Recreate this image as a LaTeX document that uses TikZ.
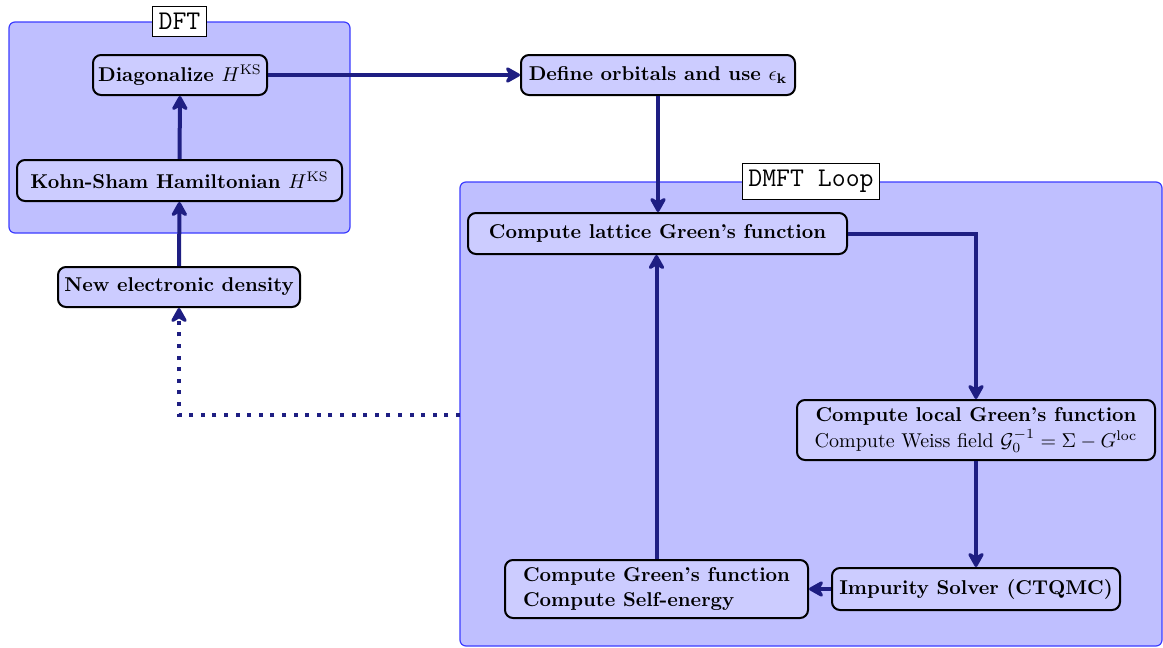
\documentclass[tikz,border=0pt]{standalone}
\usetikzlibrary{arrows.meta}
\definecolor{arrcol}{RGB}{30,30,130}
\definecolor{boxfill}{RGB}{204,204,255}
\definecolor{contfill}{RGB}{191,191,255}
\definecolor{contline}{RGB}{60,60,255}
\tikzset{
  stepbox/.style={draw=black, line width=1pt, fill=boxfill, rounded corners=4pt,
    inner sep=2pt, font=\bfseries, align=center},
  container/.style={draw=contline, line width=0.6pt, fill=contfill, rounded corners=3pt, inner sep=0pt},
  lbl/.style={draw=black, line width=0.5pt, fill=white, font=\fontsize{13.5}{16}\selectfont\ttfamily,
    inner sep=3.2pt, minimum height=14.5pt},
  arr/.style={draw=arrcol, line width=2pt, -{Stealth[round,length=9pt,width=10pt]}},
  dotarr/.style={arr, dash pattern=on 2pt off 3.8pt},
}
\begin{document}
\begin{tikzpicture}[x=0.5pt,y=-0.5pt]
\useasboundingbox (0,0) rectangle (1163,648);
% containers
\node[container, minimum width=170.5pt, minimum height=105.5pt] (dft) at (179.5,127.5) {};
\node[container, minimum width=351pt, minimum height=232pt] (dmft) at (811,414) {};
\node[lbl] (dftlbl) at (dft.north) {DFT};
\node[lbl] (dmftlbl) at (dmft.north) {DMFT Loop};
% steps
\node[stepbox, minimum width=87pt, minimum height=20pt] (diag) at (180,75) {Diagonalize $H^{\mathrm{KS}}$};
\node[stepbox, minimum width=162.5pt, minimum height=20.5pt] (ks) at (179.5,180.5) {Kohn-Sham Hamiltonian $H^{\mathrm{KS}}$};
\node[stepbox, minimum width=121pt, minimum height=20pt] (dens) at (179,287) {New electronic density};
\node[stepbox, minimum width=137pt, minimum height=20pt] (orb) at (658,75) {Define orbitals and use $\epsilon_{\mathbf{k}}$};
\node[stepbox, minimum width=189.5pt, minimum height=20.5pt] (latt) at (657.5,233.5) {Compute lattice Green's function};
\node[stepbox, minimum width=179pt, minimum height=30pt] (loc) at (976,430)
  {Compute local Green's function\\[1pt]\normalfont Compute Weiss field $\mathcal{G}_0^{-1}=\Sigma-G^{\mathrm{loc}}$};
\node[stepbox, minimum width=144pt, minimum height=21pt] (imp) at (976,589) {Impurity Solver (CTQMC)};
\node[stepbox, minimum width=151.5pt, minimum height=29pt, align=left] (gf) at (656.5,589)
  {Compute Green's function\\[0.5pt]Compute Self-energy};
% connectors
\draw[arr] (ks) -- (diag);
\draw[arr] (dens) -- (ks);
\draw[arr] (diag) -- (orb);
\draw[arr] (orb.south) -- (orb.south |- latt.north);
\draw[arr] (latt.east) -| (loc.north);
\draw[arr] (loc) -- (imp);
\draw[arr] (imp) -- (gf);
\draw[arr] (gf.north) -- (gf.north |- latt.south);
\coordinate (dstart) at (460,415);
\draw[dotarr] (dstart) -| (dens.south);
\end{tikzpicture}
\end{document}
